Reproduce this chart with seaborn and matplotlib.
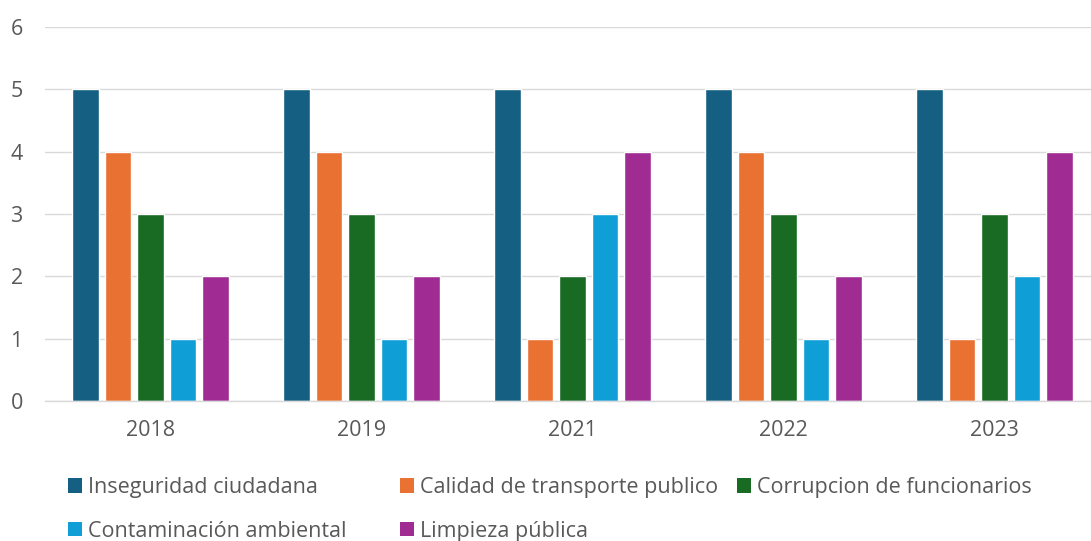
import pandas as pd
import matplotlib.pyplot as plt
import seaborn as sns
from matplotlib.patches import Patch

# data
years = ['2018', '2019', '2021', '2022', '2023']
series = ['Inseguridad ciudadana', 'Calidad de transporte publico', 'Corrupcion de funcionarios',
          'Contaminación ambiental', 'Limpieza pública']
inseguridad = [5, 5, 5, 5, 5]
transporte = [4, 4, 1, 4, 1]
corrupcion = [3, 3, 2, 3, 3]
contaminacion = [1, 1, 3, 1, 2]
limpieza = [2, 2, 4, 2, 4]
colors = ['#156082', '#E97132', '#196B24', '#0F9ED5', '#A02B93']

rows = []
for name, vals in zip(series, [inseguridad, transporte, corrupcion, contaminacion, limpieza]):
    for y, v in zip(years, vals):
        rows.append({'year': y, 'serie': name, 'valor': v})
df = pd.DataFrame(rows)

sns.set_style('white')
plt.rcParams['font.family'] = ['Open Sans', 'DejaVu Sans']

fig = plt.figure(figsize=(10.91, 5.41), dpi=100)
ax = fig.add_axes([45 / 1091, 1 - 401 / 541, 1055 / 1091, 374 / 541])

sns.barplot(data=df, x='year', y='valor', hue='serie', hue_order=series, palette=colors,
            width=0.77, gap=0.18, saturation=1, ax=ax, legend=False)

ax.set_ylim(0, 6)
ax.set_xlim(-0.5, 4.5)
ax.set_yticks(range(7))
ax.yaxis.grid(True, color='#D9D9D9', linewidth=1)
ax.set_axisbelow(True)
for s in ['top', 'right', 'left']:
    ax.spines[s].set_visible(False)
ax.spines['bottom'].set_color('#D9D9D9')
ax.spines['bottom'].set_linewidth(1)

ax.set_xticks([i - 0.5 for i in range(6)], minor=True)
ax.tick_params(axis='x', which='minor', length=6, color='#D9D9D9', width=1)
ax.tick_params(axis='x', which='major', length=0, pad=14, labelsize=15.5, labelcolor='#595959')
ax.tick_params(axis='y', length=0, pad=16, labelsize=15.5, labelcolor='#595959')
ax.set_xlabel('')
ax.set_ylabel('')

# legend: three columns at fixed positions like Excel
columns = [[0, 3], [1, 4], [2]]
col_x = [68, 400, 737]
for idx, x0 in zip(columns, col_x):
    handles = [Patch(facecolor=colors[i], edgecolor='none') for i in idx]
    labels = [series[i] for i in idx]
    fig.legend(handles, labels, ncol=1, loc='upper left', bbox_to_anchor=(x0 / 1091, 1 - 477 / 541),
               frameon=False, fontsize=15.5, labelcolor='#595959', handlelength=0.65, handleheight=0.65,
               handletextpad=0.3, labelspacing=1.05, borderpad=0, borderaxespad=0)

fig.savefig('out.png', dpi=100)
